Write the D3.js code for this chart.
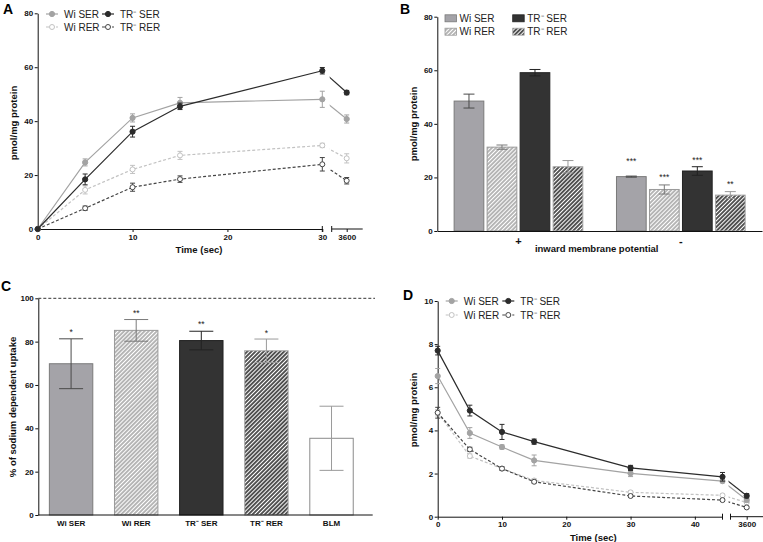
<!DOCTYPE html>
<html>
<head>
<meta charset="utf-8">
<script src="https://cdn.jsdelivr.net/npm/d3@7"></script>
<style>
  body { margin: 0; background: #fff; }
  svg { font-family: "Liberation Sans", Arial, sans-serif; }
  .axis text { font-size: 8px; font-weight: bold; fill: #111; }
  .axis path, .axis line { stroke: #111; stroke-width: 1; }
  .title { font-size: 9.5px; font-weight: bold; fill: #111; }
  .legend { font-size: 10px; fill: #222; }
  .panel { font-size: 14px; font-weight: bold; fill: #000; }
  .star { font-size: 8.5px; fill: #222; }
</style>
</head>
<body>
<div id="chart"></div>
<script>
// ---- data ----
// panel A: uptake over time
const timesA = [0, 5, 10, 15, 30, 3600];
const wiSerA = [0, 24.7, 41.2, 46.8, 48.1, 40.8];
const wiSerAErr = [0, 1.3, 1.5, 2.0, 3.0, 1.5];
const trSerA = [0, 18.4, 36.1, 45.5, 58.7, 50.6];
const trSerAErr = [0, 2.0, 2.0, 1.2, 1.2, 0.8];
const wiRerA = [0, 14.5, 22.1, 27.3, 31.0, 26.2];
const wiRerAErr = [0, 1.5, 1.5, 1.5, 0.8, 1.7];
const trRerA = [0, 7.7, 15.5, 18.5, 24.0, 17.9];
const trRerAErr = [0, 0.8, 1.5, 1.2, 2.5, 1.2];

// panel B: inward membrane potential
const groupsB = ['+', '-'];
const wiSerB = [48.5, 20.3];
const wiSerBErr = [2.6, 0.2];
const wiRerB = [31.3, 15.5];
const wiRerBErr = [0.8, 1.7];
const trSerB = [59.1, 22.4];
const trSerBErr = [1.2, 1.6];
const trRerB = [24.0, 13.4];
const trRerBErr = [2.3, 1.3];
const starsB = ['***', '***', '***', '**'];       // over the '-' group
const starLevelB = [26.8, 20.6, 27.1, 18.0];

// panel C: % of sodium dependent uptake
const categoriesC = ['Wi SER', 'Wi RER', 'TR⁻ SER', 'TR⁻ RER', 'BLM'];
const valuesC = [69.8, 85.2, 80.5, 75.8, 35.4];
const errorsC = [11.5, 5.0, 4.3, 5.4, 14.8];
const starsC = ['*', '**', '**', '*', ''];
const starLevelC = [85.0, 93.8, 88.7, 84.9, 0];

// panel D: efflux over time
const timesD = [0, 5, 10, 15, 30, 44.3, 3600];
const wiSerD = [6.52, 3.88, 3.23, 2.61, 2.01, 1.65, 0.77];
const wiSerDErr = [0.35, 0.25, 0.1, 0.25, 0.15, 0.08, 0.1];
const trSerD = [7.70, 4.92, 3.93, 3.48, 2.26, 1.85, 0.97];
const trSerDErr = [0.2, 0.25, 0.35, 0.12, 0.12, 0.2, 0.1];
const wiRerD = [4.82, 2.81, 2.23, 1.68, 1.13, 0.99, 0.66];
const wiRerDErr = [0.15, 0.1, 0.08, 0.08, 0.08, 0.06, 0.06];
const trRerD = [4.82, 3.12, 2.23, 1.62, 0.96, 0.77, 0.43];
const trRerDErr = [0.25, 0.1, 0.08, 0.06, 0.06, 0.06, 0.05];

// ---- styles ----
const lineStyle = {
  'Wi SER': { color: '#a3a3a3', open: false, dash: null },
  'TR⁻ SER': { color: '#2b2b2b', open: false, dash: null },
  'Wi RER': { color: '#c2c2c2', open: true, dash: '3,2' },
  'TR⁻ RER': { color: '#454545', open: true, dash: '3,2' }
};
const barStyle = {
  'Wi SER': { fill: '#a4a3a8', stroke: '#7a7a7a', err: '#4a4a4a' },
  'Wi RER': { fill: 'url(#hatchLight)', stroke: '#9a9a9a', err: '#7a7a7a' },
  'TR⁻ SER': { fill: '#333333', stroke: '#222222', err: '#222222' },
  'TR⁻ RER': { fill: 'url(#hatchDark)', stroke: '#a8a8a8', err: '#9a9a9a' },
  'BLM': { fill: '#ffffff', stroke: '#8a8a8a', err: '#9a9a9a' }
};

const svg = d3.select('#chart').append('svg')
  .attr('width', 763).attr('height', 542);
const defs = svg.append('defs');

function hatch(id, base) {
  const p = defs.append('pattern')
    .attr('id', id)
    .attr('patternUnits', 'userSpaceOnUse')
    .attr('width', 2.9).attr('height', 2.9)
    .attr('patternTransform', 'rotate(45)');
  p.append('rect').attr('width', 2.9).attr('height', 2.9).attr('fill', base);
  p.append('line')
    .attr('x1', 1.45).attr('y1', 0).attr('x2', 1.45).attr('y2', 2.9)
    .attr('stroke', '#fff').attr('stroke-width', 1.3);
}
hatch('hatchLight', '#a6a6a6');
hatch('hatchDark', '#2e2e2e');

function styleAxis(g) {
  g.attr('class', 'axis');
  g.selectAll('text').attr('font-family', null);
}

function marker(g, x, y, st) {
  g.append('circle')
    .attr('cx', x).attr('cy', y).attr('r', st.open ? 2.5 : 2.6)
    .attr('fill', st.open ? '#fff' : st.color)
    .attr('stroke', st.color).attr('stroke-width', 1);
}

function errBar(g, x, y0, y1, color, w) {
  g.append('line').attr('x1', x).attr('x2', x).attr('y1', y0).attr('y2', y1)
    .attr('stroke', color).attr('stroke-width', 1);
  [y0, y1].forEach(yy => g.append('line')
    .attr('x1', x - w).attr('x2', x + w).attr('y1', yy).attr('y2', yy)
    .attr('stroke', color).attr('stroke-width', 1));
}

// line panel with a broken x axis (A and D)
function linePanel(cfg) {
  const g = svg.append('g');
  const y = d3.scaleLinear().domain(cfg.yDomain).range(cfg.yRange);
  const x1 = d3.scaleLinear().domain(cfg.x1Domain).range(cfg.x1Range);
  const x2 = d3.scaleLinear().domain([3590, 3610]).range([cfg.x2Center - 15, cfg.x2Center + 15]);
  const xPos = t => (t > cfg.x1Domain[1] ? x2(t) : x1(t));
  const y0 = cfg.yRange[0];

  // axes
  const ya = g.append('g').attr('transform', 'translate(' + cfg.x1Range[0] + ',0)')
    .call(d3.axisLeft(y).tickValues(cfg.yTicks).tickSize(3).tickPadding(1.5).tickSizeOuter(0));
  styleAxis(ya);
  const xa = g.append('g').attr('transform', 'translate(0,' + y0 + ')')
    .call(d3.axisBottom(x1).tickValues(cfg.xTicks).tickFormat(d3.format('d')).tickSize(3).tickPadding(2).tickSizeOuter(0));
  styleAxis(xa);
  const xb = g.append('g').attr('transform', 'translate(0,' + y0 + ')')
    .call(d3.axisBottom(x2).tickValues([3600]).tickFormat(d3.format('d')).tickSize(3).tickPadding(2).tickSizeOuter(0));
  styleAxis(xb);
  xb.select('.domain').attr('d', 'M' + cfg.x2Start + ',0H' + cfg.x2End);
  // break marks
  [cfg.x1Range[1], cfg.x2Start].forEach(bx => g.append('line')
    .attr('x1', bx).attr('x2', bx).attr('y1', y0 - 3).attr('y2', y0 + 3)
    .attr('stroke', '#111'));

  const clipId = cfg.id + 'clip';
  defs.append('clipPath').attr('id', clipId).append('rect')
    .attr('x', cfg.x2Start - 2).attr('y', 0).attr('width', 100).attr('height', 542);

  const line = d3.line().x(d => xPos(d.t)).y(d => y(d.v));

  cfg.series.forEach(s => {
    const st = lineStyle[s.name];
    const pts = cfg.times.map((t, i) => ({ t: t, v: s.values[i], e: s.errors[i] }));
    const main = pts.filter(p => p.t <= cfg.x1Domain[1]);
    const tail = pts.slice(main.length - 1);
    g.append('path').datum(main).attr('d', line)
      .attr('fill', 'none').attr('stroke', st.color).attr('stroke-width', 1.2)
      .attr('stroke-dasharray', st.dash);
    g.append('path').datum(tail).attr('d', line)
      .attr('clip-path', 'url(#' + clipId + ')')
      .attr('fill', 'none').attr('stroke', st.color).attr('stroke-width', 1.2)
      .attr('stroke-dasharray', st.dash);
    pts.forEach(p => {
      if (p.e > 0) errBar(g, xPos(p.t), y(p.v + p.e), y(p.v - p.e), st.color, 2.5);
      marker(g, xPos(p.t), y(p.v), st);
    });
  });

  // legend
  cfg.legend.forEach(l => {
    const st = lineStyle[l.name];
    g.append('line').attr('x1', l.x - 6).attr('x2', l.x + 6).attr('y1', l.y).attr('y2', l.y)
      .attr('stroke', st.color).attr('stroke-width', 1.2).attr('stroke-dasharray', st.dash);
    marker(g, l.x, l.y, st);
    g.append('text').attr('class', 'legend').attr('x', l.x + 12).attr('y', l.y + 3.5).text(l.name);
  });

  g.append('text').attr('class', 'title').attr('text-anchor', 'middle')
    .attr('x', cfg.xTitle[0]).attr('y', cfg.xTitle[1]).text('Time (sec)');
  g.append('text').attr('class', 'title').attr('text-anchor', 'middle')
    .attr('transform', 'translate(' + cfg.yTitle[0] + ',' + cfg.yTitle[1] + ') rotate(-90)')
    .text('pmol/mg protein');
  g.append('text').attr('class', 'panel').attr('x', cfg.letter[0]).attr('y', cfg.letter[1]).text(cfg.id);
}

linePanel({
  id: 'A',
  yDomain: [0, 80], yRange: [229, 13.3], yTicks: [0, 20, 40, 60, 80],
  x1Domain: [0, 30], x1Range: [37.7, 322.3], xTicks: [0, 10, 20, 30],
  x2Center: 346.7, x2Start: 331.7, x2End: 362.7,
  times: timesA,
  series: [
    { name: 'Wi RER', values: wiRerA, errors: wiRerAErr },
    { name: 'TR⁻ RER', values: trRerA, errors: trRerAErr },
    { name: 'Wi SER', values: wiSerA, errors: wiSerAErr },
    { name: 'TR⁻ SER', values: trSerA, errors: trSerAErr }
  ],
  legend: [
    { name: 'Wi SER', x: 52, y: 14 }, { name: 'TR⁻ SER', x: 108, y: 14 },
    { name: 'Wi RER', x: 52, y: 27 }, { name: 'TR⁻ RER', x: 108, y: 27 }
  ],
  xTitle: [199, 253], yTitle: [17, 123], letter: [3, 14]
});

linePanel({
  id: 'D',
  yDomain: [0, 10], yRange: [516.7, 301], yTicks: [0, 2, 4, 6, 8, 10],
  x1Domain: [0, 44.3], x1Range: [437.7, 722.5], xTicks: [0, 10, 20, 30, 40],
  x2Center: 746.7, x2Start: 730.5, x2End: 763,
  times: timesD,
  series: [
    { name: 'Wi RER', values: wiRerD, errors: wiRerDErr },
    { name: 'TR⁻ RER', values: trRerD, errors: trRerDErr },
    { name: 'Wi SER', values: wiSerD, errors: wiSerDErr },
    { name: 'TR⁻ SER', values: trSerD, errors: trSerDErr }
  ],
  legend: [
    { name: 'Wi SER', x: 451.7, y: 301 }, { name: 'TR⁻ SER', x: 508.3, y: 301 },
    { name: 'Wi RER', x: 451.7, y: 315 }, { name: 'TR⁻ RER', x: 508.3, y: 315 }
  ],
  xTitle: [593.3, 541], yTitle: [417, 410], letter: [403, 300]
});

// ---- panel B: grouped bars ----
(function () {
  const g = svg.append('g');
  const barKeys = ['Wi SER', 'Wi RER', 'TR⁻ SER', 'TR⁻ RER'];
  const vals = { 'Wi SER': wiSerB, 'Wi RER': wiRerB, 'TR⁻ SER': trSerB, 'TR⁻ RER': trRerB };
  const errs = { 'Wi SER': wiSerBErr, 'Wi RER': wiRerBErr, 'TR⁻ SER': trSerBErr, 'TR⁻ RER': trRerBErr };
  const y = d3.scaleLinear().domain([0, 80]).range([231, 16.7]);
  const x0 = d3.scaleBand().domain(groupsB).range([437.3, 762]);
  const x1 = d3.scaleBand().domain(barKeys).range([0, x0.bandwidth()]).paddingInner(0.1).paddingOuter(0.51);

  groupsB.forEach((grp, gi) => {
    barKeys.forEach((k, ki) => {
      const st = barStyle[k];
      const bx = x0(grp) + x1(k);
      const v = vals[k][gi], e = errs[k][gi];
      g.append('rect').attr('x', bx).attr('y', y(v)).attr('width', x1.bandwidth()).attr('height', y(0) - y(v))
        .attr('fill', st.fill).attr('stroke', st.stroke).attr('stroke-width', 1);
      errBar(g, bx + x1.bandwidth() / 2, y(v + e), y(v - e), st.err, 5.5);
      if (grp === '-') {
        g.append('text').attr('class', 'star').attr('text-anchor', 'middle')
          .attr('x', bx + x1.bandwidth() / 2).attr('y', y(starLevelB[ki]) + 4.5).text(starsB[ki]);
      }
    });
  });

  const ya = g.append('g').attr('transform', 'translate(437.3,0)')
    .call(d3.axisLeft(y).tickValues([0, 20, 40, 60, 80]).tickSize(3).tickPadding(1.5).tickSizeOuter(0));
  styleAxis(ya);
  const xa = g.append('g').attr('transform', 'translate(0,231)')
    .call(d3.axisBottom(x0).tickSize(0).tickPadding(6));
  styleAxis(xa);
  xa.selectAll('text').style('font-size', '11px');

  const legend = [
    { name: 'Wi SER', x: 445, y: 18.3 }, { name: 'TR⁻ SER', x: 512.7, y: 18.3 },
    { name: 'Wi RER', x: 445, y: 31.7 }, { name: 'TR⁻ RER', x: 512.7, y: 31.7 }
  ];
  legend.forEach(l => {
    const st = barStyle[l.name];
    g.append('rect').attr('x', l.x).attr('y', l.y - 3.5).attr('width', 11.5).attr('height', 7)
      .attr('fill', st.fill).attr('stroke', st.stroke).attr('stroke-width', 0.8);
    g.append('text').attr('class', 'legend').attr('x', l.x + 14.5).attr('y', l.y + 3.5).text(l.name);
  });

  g.append('text').attr('class', 'title').attr('text-anchor', 'middle')
    .attr('x', 596.7).attr('y', 252).text('inward membrane potential');
  g.append('text').attr('class', 'title').attr('text-anchor', 'middle')
    .attr('transform', 'translate(417,124) rotate(-90)').text('pmol/mg protein');
  g.append('text').attr('class', 'panel').attr('x', 400).attr('y', 14).text('B');
})();

// ---- panel C: bars ----
(function () {
  const g = svg.append('g');
  const y = d3.scaleLinear().domain([0, 100]).range([515, 298.3]);
  const x = d3.scaleBand().domain(categoriesC).range([38.3, 364.3]).paddingInner(0.333).paddingOuter(0.17);

  g.append('line').attr('x1', 38.3).attr('x2', 375).attr('y1', y(100)).attr('y2', y(100))
    .attr('stroke', '#333').attr('stroke-width', 1).attr('stroke-dasharray', '3,2');

  categoriesC.forEach((c, i) => {
    const st = barStyle[c];
    const v = valuesC[i], e = errorsC[i];
    g.append('rect').attr('x', x(c)).attr('y', y(v)).attr('width', x.bandwidth()).attr('height', y(0) - y(v))
      .attr('fill', st.fill).attr('stroke', st.stroke).attr('stroke-width', 1);
    errBar(g, x(c) + x.bandwidth() / 2, y(v + e), y(v - e), st.err, 12);
    if (starsC[i]) {
      g.append('text').attr('class', 'star').attr('text-anchor', 'middle')
        .attr('x', x(c) + x.bandwidth() / 2).attr('y', y(starLevelC[i]) + 4.5).text(starsC[i]);
    }
  });

  const ya = g.append('g').attr('transform', 'translate(38.3,0)')
    .call(d3.axisLeft(y).tickValues([0, 20, 40, 60, 80, 100]).tickSize(3).tickPadding(1.5).tickSizeOuter(0));
  styleAxis(ya);
  const xa = g.append('g').attr('transform', 'translate(0,515)')
    .call(d3.axisBottom(x).tickSize(0).tickPadding(5));
  styleAxis(xa);
  xa.select('.domain').attr('d', 'M38.3,0H372.7');

  g.append('text').attr('class', 'title').attr('text-anchor', 'middle')
    .attr('transform', 'translate(16,407) rotate(-90)').text('% of sodium dependent uptake');
  g.append('text').attr('class', 'panel').attr('x', 1).attr('y', 291).text('C');
})();
</script>
</body>
</html>
